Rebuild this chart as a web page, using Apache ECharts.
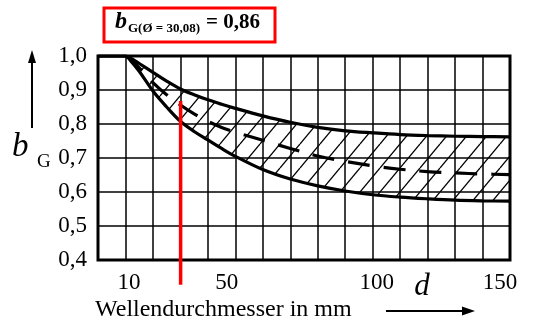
<!DOCTYPE html>
<html>
<head>
<meta charset="utf-8">
<script src="https://cdn.jsdelivr.net/npm/echarts@6/dist/echarts.min.js"></script>
<style>
html,body{margin:0;padding:0;background:#fff;}
#c{width:533px;height:320px;}
</style>
</head>
<body>
<div id="c"></div>
<script>
// ---- data ----
var diameters = [0, 10, 12, 15, 20, 25, 30, 35, 40, 45, 50, 60, 70, 80, 90, 100, 110, 120, 130, 140, 150];
var upperCurve = [1.0, 1.0, 0.993, 0.978, 0.952, 0.926, 0.903, 0.886, 0.871, 0.858, 0.846, 0.824, 0.805, 0.790, 0.780, 0.774, 0.769, 0.766, 0.764, 0.763, 0.762];
var lowerCurve = [1.0, 1.0, 0.985, 0.955, 0.897, 0.850, 0.808, 0.778, 0.753, 0.728, 0.705, 0.666, 0.638, 0.618, 0.603, 0.592, 0.585, 0.580, 0.576, 0.574, 0.573];
var meanCurve  = [null, 1.0, 0.99, 0.965, 0.922, 0.886, 0.856, 0.830, 0.808, 0.790, 0.776, 0.752, 0.728, 0.706, 0.690, 0.677, 0.667, 0.660, 0.656, 0.653, 0.651];
var xTickLabels = [10, 50, 100, 150];
var yTickLabels = [0.4, 0.5, 0.6, 0.7, 0.8, 0.9, 1.0];
var markerD = 30.08;
var markerTop = 0.868;
var markerBottom = 0.327;

function pairs(xs, ys) { return xs.map(function (x, i) { return [x, ys[i]]; }); }

// hatch pattern
function makeHatch() {
  var w = 20, h = 24;
  var cv = document.createElement('canvas');
  cv.width = w; cv.height = h;
  var ctx = cv.getContext('2d');
  ctx.fillStyle = '#fff';
  ctx.fillRect(0, 0, w, h);
  ctx.strokeStyle = '#000';
  ctx.lineWidth = 1.3;
  [-w, 0, w].forEach(function (o) {
    ctx.beginPath();
    ctx.moveTo(o, h);
    ctx.lineTo(o + w, 0);
    ctx.stroke();
  });
  return cv;
}

var SERIF = '"Liberation Serif", "DejaVu Serif", serif';
var chart = echarts.init(document.getElementById('c'), null, {renderer: 'canvas'});
var SM = 0.35;

chart.setOption({
  animation: false,
  backgroundColor: '#fff',
  grid: {left: 98, right: 23, top: 56, bottom: 60, show: true, borderColor: '#000', borderWidth: 3, backgroundColor: 'transparent', z: 5},
  xAxis: {
    type: 'value', min: 0, max: 150, interval: 10, z: 5,
    axisLine: {show: false}, axisTick: {show: false},
    splitLine: {show: true, lineStyle: {color: '#000', width: 1.5}},
    axisLabel: {
      margin: 11, color: '#000', fontFamily: SERIF, fontSize: 23,
      formatter: function (v) {
        var r = Math.round(v);
        if (xTickLabels.indexOf(r) < 0) return '';
        return '{l' + r + '|' + r + '}';
      },
      rich: {
        l10: {fontFamily: SERIF, fontSize: 23, color: '#000', padding: [0, 0, 0, 7]},
        l50: {fontFamily: SERIF, fontSize: 23, color: '#000', padding: [0, 17, 0, 0]},
        l100: {fontFamily: SERIF, fontSize: 23, color: '#000', padding: [0, 0, 0, 8]},
        l150: {fontFamily: SERIF, fontSize: 23, color: '#000', padding: [0, 20, 0, 0]}
      }
    }
  },
  yAxis: {
    type: 'value', min: 0.4, max: 1.0, interval: 0.1, z: 5,
    axisLine: {show: false}, axisTick: {show: false},
    splitLine: {show: true, lineStyle: {color: '#000', width: 1.5}},
    axisLabel: {
      margin: 11, color: '#000', fontFamily: SERIF, fontSize: 23,
      formatter: function (v) {
        var s = v.toFixed(1);
        var ok = yTickLabels.some(function (t) { return Math.abs(t - v) < 1e-6; });
        return ok ? s.replace('.', ',') : '';
      }
    }
  },
  series: [
    {
      type: 'line', name: 'bandTop', data: pairs(diameters, upperCurve),
      smooth: SM, symbol: 'none', lineStyle: {width: 0, opacity: 0},
      areaStyle: {color: {image: makeHatch(), repeat: 'repeat'}, opacity: 1}, silent: true, z: 2
    },
    {
      type: 'line', name: 'bandBottom', data: pairs(diameters, lowerCurve),
      smooth: SM, symbol: 'none', lineStyle: {width: 0, opacity: 0},
      areaStyle: {color: '#fff', opacity: 1}, silent: true, z: 3
    },
    {
      type: 'line', name: 'upper', data: pairs(diameters, upperCurve),
      smooth: SM, symbol: 'none', lineStyle: {color: '#000', width: 3.2}, z: 8
    },
    {
      type: 'line', name: 'lower', data: pairs(diameters, lowerCurve),
      smooth: SM, symbol: 'none', lineStyle: {color: '#000', width: 3.2}, z: 8
    },
    {
      type: 'line', name: 'mean', data: pairs(diameters, meanCurve),
      smooth: SM, symbol: 'none', lineStyle: {color: '#000', width: 3.2, type: [22, 14]}, z: 8
    },
    {
      type: 'line', name: 'marker', data: [[markerD, markerTop], [markerD, markerBottom]],
      symbol: 'none', clip: false, lineStyle: {color: '#ff0000', width: 3.5}, z: 10
    }
  ],
  graphic: [
    {type: 'rect', shape: {x: 104, y: 8, width: 171, height: 34}, style: {fill: '#fff', stroke: '#ff0000', lineWidth: 3}, z: 100},
    {type: 'text', x: 115, y: 22, style: {text: 'b', font: 'italic bold 24px ' + SERIF, fill: '#000', textVerticalAlign: 'middle'}, z: 101},
    {type: 'text', x: 128, y: 29, style: {text: 'G(\u00D8 = 30,08)', font: 'bold 13px ' + SERIF, fill: '#000', textVerticalAlign: 'middle'}, z: 101},
    {type: 'text', x: 206, y: 23, style: {text: '= 0,86', font: 'bold 21px ' + SERIF, fill: '#000', textVerticalAlign: 'middle'}, z: 101},

    {type: 'text', x: 12, y: 147, style: {text: 'b', font: 'italic 33px ' + SERIF, fill: '#000', textVerticalAlign: 'middle'}},
    {type: 'text', x: 37, y: 162, style: {text: 'G', font: '19px ' + SERIF, fill: '#000', textVerticalAlign: 'middle'}},
    {type: 'line', shape: {x1: 32, y1: 128, x2: 32, y2: 60}, style: {stroke: '#000', lineWidth: 2}},
    {type: 'polygon', shape: {points: [[32, 50], [28, 63], [36, 63]]}, style: {fill: '#000'}},

    {type: 'text', x: 422, y: 287, style: {text: 'd', font: 'italic 31px ' + SERIF, fill: '#000', textAlign: 'center', textVerticalAlign: 'middle'}},
    {type: 'line', shape: {x1: 386, y1: 311, x2: 464, y2: 311}, style: {stroke: '#000', lineWidth: 2}},
    {type: 'polygon', shape: {points: [[475, 311], [462, 306.5], [462, 315.5]]}, style: {fill: '#000'}},
    {type: 'text', x: 95, y: 310, style: {text: 'Wellendurchmesser in mm', font: '24px ' + SERIF, fill: '#000', textVerticalAlign: 'middle'}}
  ]
});
</script>
</body>
</html>
